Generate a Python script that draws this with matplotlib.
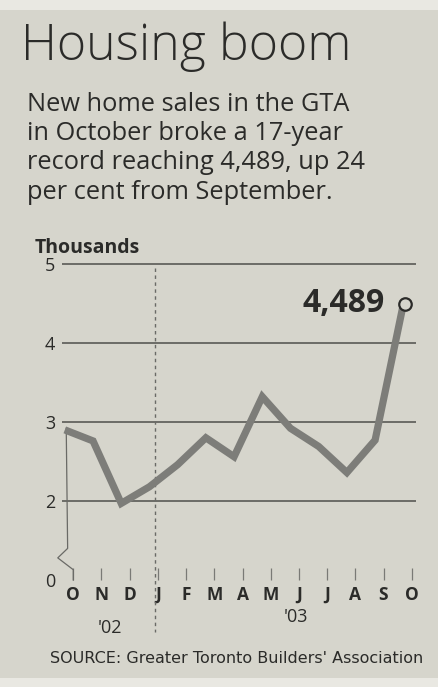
import matplotlib.pyplot as plt
import matplotlib.transforms as mtransforms
from matplotlib.patches import Rectangle

# data (thousands of new home sales, GTA)
months = ["O", "N", "D", "J", "F", "M", "A", "M", "J", "J", "A", "S", "O"]
sales = [2.90, 2.76, 1.97, 2.18, 2.46, 2.80, 2.56, 3.32, 2.92, 2.69, 2.36, 2.77, 4.489]
y_ticks = [1.0, 2, 3, 4, 5]
y_tick_labels = ["0", "2", "3", "4", "5"]
year_labels = ["'02", "'03"]

W, H = 439, 687
bg = "#d6d5cc"
paper = "#e9e8e2"
ink = "#2b2b29"
line_col = "#7d7d79"
grid_col = "#4f4f4c"

fig = plt.figure(figsize=(W / 100, H / 100), dpi=100, facecolor=bg)


def fx(px):
    return px / W


def fy(px):
    return 1 - px / H


# lighter paper strips at top and bottom of the scan
fig.patches.append(Rectangle((0, fy(10)), 1, 10 / H, transform=fig.transFigure,
                             facecolor=paper, edgecolor="none", zorder=0))
fig.patches.append(Rectangle((0, 0), 1, 9 / H, transform=fig.transFigure,
                             facecolor=paper, edgecolor="none", zorder=0))

fam = ["Open Sans", "DejaVu Sans"]

fig.text(fx(21), fy(60), "Housing boom", fontsize=36, family=fam,
         fontweight="light", color=ink, va="baseline", ha="left")

sub = ["New home sales in the GTA",
       "in October broke a 17-year",
       "record reaching 4,489, up 24",
       "per cent from September."]
for i, s in enumerate(sub):
    fig.text(fx(27), fy(111 + i * 29.2), s, fontsize=18.3, family=fam,
             color=ink, va="baseline", ha="left")

fig.text(fx(35), fy(253), "Thousands", fontsize=14, fontweight="bold",
         family=fam, color=ink, va="baseline", ha="left")

# axes: left at 62px, right at 416px, top 245px, bottom 580px
ax = fig.add_axes([fx(62), fy(580), fx(416 - 62), (580 - 245) / H])
ax.set_facecolor("none")
x = list(range(len(sales)))
ax.set_xlim(-0.1, 12.45)
ax.set_ylim(1.0, 5.24)

for v in [2, 3, 4, 5]:
    ax.axhline(v, color=grid_col, lw=1.1, zorder=1)

ax.plot(x, sales, color=line_col, lw=5.2, solid_joinstyle="miter",
        solid_capstyle="butt", zorder=3)
ax.plot(x[-1] + 0.05, sales[-1], marker="o", ms=9, mfc=bg, mec=ink,
        mew=1.6, zorder=4)
ax.text(x[-1] - 0.65, sales[-1] + 0.01, "4,489", fontsize=23, fontweight="bold",
        family=fam, color=ink, ha="right", va="center")

# left axis stub with break
ax.plot([0.05, 0.1, -0.25, 0.3, 0.3], [2.92, 1.4, 1.28, 1.13, 1.0],
        color="#6a6a66", lw=0.9, clip_on=False, zorder=2)

# year divider (dashed)
trans = mtransforms.blended_transform_factory(ax.transData, fig.transFigure)
ax.plot([3.2, 3.2], [fy(268), fy(632)], transform=trans, color="#6a6a66",
        lw=1.0, ls=(0, (2.5, 2.5)), clip_on=False, zorder=2)

for s in ax.spines.values():
    s.set_visible(False)

ax.set_yticks(y_ticks)
ax.set_yticklabels(y_tick_labels, fontsize=13, family=fam, color=ink)
ax.tick_params(axis="y", length=0, pad=5)

ax.set_xticks([i + 0.3 for i in x])
ax.set_xticklabels(months, fontsize=12.5, fontweight="bold", family=fam,
                   color=ink)
ax.tick_params(axis="x", direction="in", length=9, width=0.9,
               color="#7a7a76", pad=4)

ax.text(1.6, fy(633), year_labels[0], transform=trans, fontsize=13,
        family=fam, color=ink, ha="center", va="baseline")
ax.text(8.2, fy(622), year_labels[1], transform=trans, fontsize=13,
        family=fam, color=ink, ha="center", va="baseline")

fig.text(fx(50), fy(663), "SOURCE: Greater Toronto Builders' Association",
         fontsize=11.5, family=["Liberation Sans Narrow", "DejaVu Sans"],
         color=ink, va="baseline", ha="left")

fig.savefig("out.png", dpi=100, facecolor=bg)
